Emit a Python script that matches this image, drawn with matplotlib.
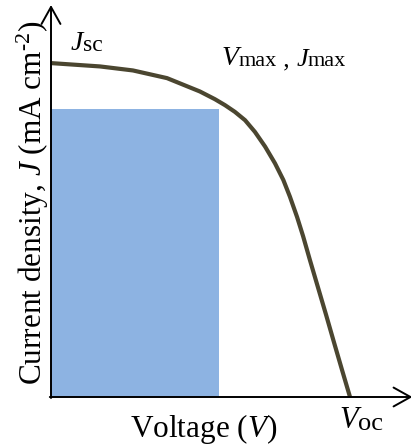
import matplotlib
matplotlib.use("Agg")
import matplotlib.pyplot as plt
from matplotlib.patches import Rectangle
from matplotlib.text import Annotation

plt.rcParams["font.family"] = ["Liberation Serif", "DejaVu Serif"]
plt.rcParams["mathtext.fontset"] = "custom"
plt.rcParams["mathtext.rm"] = "Liberation Serif"
plt.rcParams["mathtext.it"] = "Liberation Serif:italic"

# J-V curve of the cell (normalised: V / Voc, J / Jsc)
voltage = [0.0, 0.164, 0.274, 0.388, 0.498, 0.548, 0.582, 0.615, 0.649,
           0.682, 0.716, 0.749, 0.777, 0.799, 0.823, 0.843, 0.866, 0.893,
           0.920, 0.946, 0.973, 1.0]
current = [1.0, 0.990, 0.978, 0.955, 0.915, 0.892, 0.874, 0.854, 0.829,
           0.794, 0.750, 0.700, 0.650, 0.600, 0.539, 0.482, 0.410, 0.328,
           0.246, 0.165, 0.082, 0.0]

# maximum power point
v_max = 0.562
j_max = 0.862

x_end = 1.204
y_end = 1.174

W, H = 411, 448
fig = plt.figure(figsize=(W / 100, H / 100), dpi=100)
ax = fig.add_axes([51 / W, 51 / H, 360 / W, 392 / H])
ax.set_xlim(0, x_end)
ax.set_ylim(0, y_end)
ax.axis("off")

# maximum-power rectangle
ax.add_patch(Rectangle((0, 0), v_max, j_max, facecolor="#8DB3E2",
                       edgecolor="none", zorder=1))

# J-V curve
ax.plot(voltage, current, color="#4B4630", lw=3.0, solid_capstyle="butt",
        solid_joinstyle="round", zorder=3, clip_on=False)

# axes drawn as arrows
arrow_kw = dict(arrowstyle="->,head_length=1.22,head_width=0.68",
                color="black", lw=1.4, shrinkA=0, shrinkB=0,
                mutation_scale=10)
ax.annotate("", xy=(x_end + 0.005, 0), xytext=(-0.004, 0),
            arrowprops=arrow_kw, annotation_clip=False, zorder=4)
ax.annotate("", xy=(0, y_end), xytext=(0, -0.003),
            arrowprops=arrow_kw, annotation_clip=False, zorder=4)


def chain(x_px, y_px, parts):
    """Write (text, size, italic) pieces one after another from a baseline point."""
    first_text, first_size, first_it = parts[0]
    prev = fig.text(x_px / W, 1 - y_px / H, first_text, size=first_size,
                    style="italic" if first_it else "normal",
                    ha="left", va="baseline")
    for text, size, italic in parts[1:]:
        prev = fig.add_artist(Annotation(
            text, xy=(1, 0), xycoords=prev, size=size,
            style="italic" if italic else "normal",
            ha="left", va="bottom"))
    return prev


chain(71, 50, [("J", 20, True), ("sc", 17, False)])
chain(222, 65, [("V", 20, True), ("max", 16, False), (" , ", 18, False),
                ("J", 19, True), ("max", 16, False)])
chain(339, 428, [("V", 22, True), ("oc", 19, False)])

fig.text(204 / W, 1 - 437 / H, r"Voltage ($\mathit{V}$)", size=22.5,
         ha="center", va="baseline")
fig.text(42 / W, 1 - 203 / H,
         "Current density, $\\mathit{J}$ (mA cm$^{\u2010\\mathrm{2}}$)",
         size=22.5, rotation=90, rotation_mode="anchor",
         ha="center", va="baseline")

fig.savefig("out.png", dpi=100)
